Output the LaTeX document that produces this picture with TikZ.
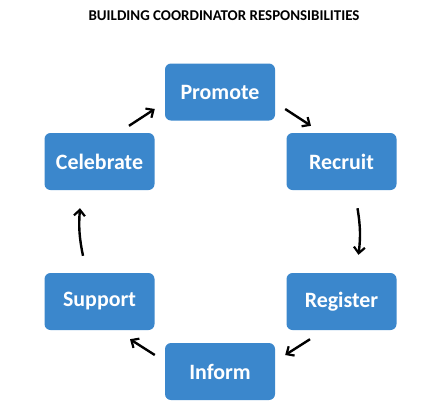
\documentclass[tikz,border=0pt]{standalone}
\usepackage{fontspec}
\setmainfont{Carlito}
\usepackage{tikz}
\usetikzlibrary{calc,arrows.meta,positioning}
\definecolor{boxblue}{RGB}{59,135,204}
\tikzset{task/.style={rectangle, rounded corners=6bp, fill=boxblue, draw=none, minimum width=110bp, minimum height=57bp, inner sep=0pt, text=white, font=\fontsize{22}{26}\selectfont\bfseries}, flow/.style={line width=2.4bp, -{Straight Barb[length=6bp,width=11bp,line width=2.2bp]}, black}}

\begin{document}
\begin{tikzpicture}[x=1bp, y=-1bp]
    \useasboundingbox (0,0) rectangle (439,418);
    \node[font=\fontsize{15}{18}\selectfont\bfseries] (Title) at (224,16) {BUILDING COORDINATOR RESPONSIBILITIES};
    \node[task] (Promote) at (220,92) {Promote};
    \node[task] (Recruit) at (341.5,161.5) {Recruit};
    \node[task] (Register) at (341.5,301.5) {Register};
    \node[task] (Inform) at (220,371.5) {Inform};
    \node[task] (Support) at (99.5,301.5) {Support};
    \node[task] (Celebrate) at (99.5,161.5) {Celebrate};
    \draw[flow] ($(Promote.east)+(10,17)$) -- ($(Recruit.north)+(-30.5,-7)$);
    \draw[flow] ($(Recruit.south)+(16,18)$) to[bend left=8] ($(Register.north)+(17,-18)$);
    \draw[flow] ($(Register.south)+(-31.5,9)$) -- ($(Inform.east)+(10,-16.5)$);
    \draw[flow] ($(Inform.west)+(-10,-16.5)$) -- ($(Support.south)+(30.5,9)$);
    \draw[flow] ($(Support.north)+(-16.5,-17)$) to[bend left=8] ($(Celebrate.south)+(-19.5,18)$);
    \draw[flow] ($(Celebrate.north)+(29.5,-7)$) -- ($(Promote.west)+(-10,17)$);
\end{tikzpicture}
\end{document}
